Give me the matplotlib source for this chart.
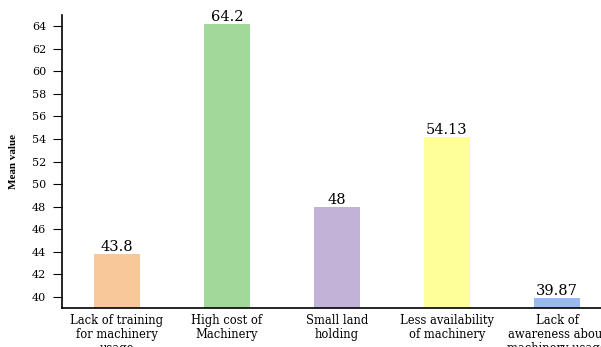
import matplotlib
matplotlib.use("Agg")
import matplotlib.pyplot as plt

# -----------------------------
# Data
# -----------------------------
categories = [
    "Lack of training\nfor machinery\nusage",
    "High cost of\nMachinery",
    "Small land\nholding",
    "Less availability\nof machinery",
    "Lack of\nawareness about\nmachinery usage",
]
mean_values = [43.8, 64.2, 48, 54.13, 39.87]
value_labels = ["43.8", "64.2", "48", "54.13", "39.87"]
bar_colors = ["#F9C899", "#A1D99B", "#C2B2D8", "#FFFF99", "#98B9F2"]
y_ticks = list(range(40, 65, 2))

plt.rcParams["font.family"] = ["DejaVu Serif"]

fig = plt.figure(figsize=(6.01, 3.47), dpi=100)
ax = fig.add_axes([62 / 601, 39 / 347, 550 / 601, 293 / 347])

x = list(range(len(categories)))
ax.bar(x, mean_values, width=0.41, color=bar_colors, edgecolor="none")
for xi, v, lab in zip(x, mean_values, value_labels):
    ax.annotate(lab, (xi, v), xytext=(0, 0), textcoords="offset points",
                ha="center", va="bottom", fontsize=10.5, color="black")

ax.set_ylim(39.0, 65.0)
ax.set_xlim(-0.5, 4.5)
ax.set_yticks(y_ticks)
ax.set_xticks(x)
ax.set_xticklabels(categories, fontsize=8.3, linespacing=1.12)
ax.tick_params(axis="y", labelsize=8, length=6.5, pad=5, width=0.8)
ax.tick_params(axis="x", length=0, pad=4)
ax.set_ylabel("Mean value", fontsize=8, fontweight="bold",
              family="Liberation Serif")
ax.yaxis.set_label_coords(-0.08, 0.5)

ax.spines["top"].set_visible(False)
ax.spines["right"].set_visible(False)
ax.spines["left"].set_linewidth(1.2)
ax.spines["bottom"].set_linewidth(1.2)

fig.savefig("out.png", dpi=100)
